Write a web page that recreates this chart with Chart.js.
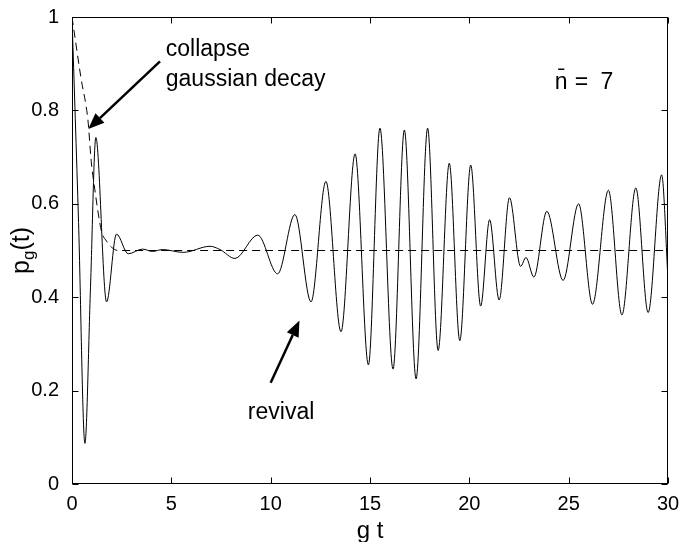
<!DOCTYPE html>
<html>
<head>
<meta charset="UTF-8">
<title>p_g(t) collapse and revival</title>
<style>
  body { margin: 0; background: #fff; }
  canvas { display: block; }
</style>
</head>
<body>
<canvas id="chart" width="683" height="542"></canvas>
<script src="https://cdn.jsdelivr.net/npm/chart.js"></script>
<script>
// solid curve p_g(t), turning points
const gt = [0, 0.33, 0.65, 0.93, 1.2, 1.74, 2.24, 2.83, 3.55, 4.05, 4.55, 5.6, 6.95, 7.45, 8.2, 9.35,
  10.35, 11.22, 12.03, 12.78, 13.54, 14.25, 14.92, 15.5, 16.16, 16.73, 17.32, 17.9, 18.43, 18.99, 19.52,
  20.07, 20.57, 21.02, 21.5, 22.02, 22.58, 22.85, 23.25, 23.9, 24.72, 25.5, 26.2, 27.0, 27.68, 28.38,
  29.0, 29.68, 30];
const pg = [1.0, 0.56, 0.087, 0.42, 0.742, 0.39, 0.535, 0.493, 0.503, 0.498, 0.502, 0.496, 0.509, 0.502, 0.483, 0.533,
  0.45, 0.577, 0.39, 0.648, 0.326, 0.707, 0.255, 0.762, 0.246, 0.758, 0.225, 0.762, 0.286, 0.687, 0.307,
  0.683, 0.381, 0.566, 0.394, 0.613, 0.466, 0.485, 0.443, 0.584, 0.436, 0.6, 0.385, 0.629, 0.362, 0.634,
  0.367, 0.662, 0.44];

// dashed gaussian decay envelope
const envT = [0, 0.45, 0.8, 0.97, 1.15, 1.32, 1.49, 1.74, 1.99, 2.32, 30];
const envP = [1.0, 0.87, 0.78, 0.69, 0.63, 0.58, 0.54, 0.52, 0.507, 0.5, 0.5];

const xTicks = [0, 5, 10, 15, 20, 25, 30];
const yTicks = [0, 0.2, 0.4, 0.6, 0.8, 1];
const yTickLabels = ['0', '0.2', '0.4', '0.6', '0.8', '1'];

const FONT = "'Liberation Sans', Arial, sans-serif";

function arrow(ctx, x0, y0, x1, y1) {
  const a = Math.atan2(y1 - y0, x1 - x0);
  const L = 16, W = 6.5;
  const bx = x1 - L * Math.cos(a), by = y1 - L * Math.sin(a);
  ctx.lineWidth = 2.5;
  ctx.beginPath();
  ctx.moveTo(x0, y0);
  ctx.lineTo(bx, by);
  ctx.stroke();
  ctx.beginPath();
  ctx.moveTo(x1, y1);
  ctx.lineTo(bx + W * Math.sin(a), by - W * Math.cos(a));
  ctx.lineTo(bx - W * Math.sin(a), by + W * Math.cos(a));
  ctx.closePath();
  ctx.fill();
}

// box, inward ticks, annotations and the y label
const decorations = {
  id: 'decorations',
  afterDraw(chart) {
    const { ctx, chartArea: a, scales: { x, y } } = chart;
    const L = Math.round(a.left) + 0.5, R = Math.round(a.right) - 0.5;
    const T = Math.round(a.top) + 0.5, B = Math.round(a.bottom) - 0.5;
    ctx.save();
    ctx.strokeStyle = '#000';
    ctx.fillStyle = '#000';
    ctx.lineWidth = 1;
    ctx.strokeRect(L, T, R - L, B - T);
    ctx.beginPath();
    xTicks.forEach(v => {
      const px = Math.round(x.getPixelForValue(v)) + 0.5;
      ctx.moveTo(px, B); ctx.lineTo(px, B - 6);
      ctx.moveTo(px, T); ctx.lineTo(px, T + 6);
    });
    yTicks.forEach(v => {
      const py = Math.round(y.getPixelForValue(v)) + 0.5;
      ctx.moveTo(L, py); ctx.lineTo(L + 6, py);
      ctx.moveTo(R, py); ctx.lineTo(R - 6, py);
    });
    ctx.stroke();

    // annotations placed in data units
    const X = v => x.getPixelForValue(v), Y = v => y.getPixelForValue(v);
    ctx.font = '23px ' + FONT;
    ctx.textBaseline = 'middle';
    ctx.textAlign = 'left';
    ctx.fillText('collapse', X(4.72), Y(0.93));
    ctx.fillText('gaussian decay', X(4.72), Y(0.865));
    ctx.fillText('revival', X(8.85), Y(0.152));
    ctx.fillText('n\u0304', X(24.3), Y(0.86));
    ctx.fillText('=', X(25.3), Y(0.86));
    ctx.fillText('7', X(26.6), Y(0.86));

    arrow(ctx, X(4.43), Y(0.905), X(0.82), Y(0.76));
    arrow(ctx, X(10.0), Y(0.217), X(11.45), Y(0.35));

    // y label p_g(t)
    ctx.translate(22, (a.top + a.bottom) / 2);
    ctx.rotate(-Math.PI / 2);
    const big = '25px ' + FONT, small = '17px ' + FONT;
    ctx.font = big; const w1 = ctx.measureText('p').width, w3 = ctx.measureText('(t)').width;
    ctx.font = small; const w2 = ctx.measureText('g').width;
    let cx = -(w1 + w2 + w3) / 2;
    ctx.font = big; ctx.fillText('p', cx, 0); cx += w1;
    ctx.font = small; ctx.fillText('g', cx, 7); cx += w2;
    ctx.font = big; ctx.fillText('(t)', cx, 0);
    ctx.restore();
  }
};

new Chart(document.getElementById('chart'), {
  type: 'line',
  data: {
    datasets: [
      {
        data: gt.map((t, i) => ({ x: t, y: pg[i] })),
        borderColor: '#000',
        borderWidth: 1,
        pointRadius: 0,
        cubicInterpolationMode: 'monotone',
        fill: false
      },
      {
        data: envT.map((t, i) => ({ x: t, y: envP[i] })),
        borderColor: '#000',
        borderWidth: 1,
        borderDash: [8, 5],
        pointRadius: 0,
        cubicInterpolationMode: 'monotone',
        fill: false
      }
    ]
  },
  options: {
    responsive: false,
    animation: false,
    layout: { padding: { top: 14, right: 15 } },
    plugins: { legend: { display: false }, tooltip: { enabled: false } },
    scales: {
      x: {
        type: 'linear',
        min: 0,
        max: 30,
        afterBuildTicks: s => { s.ticks = xTicks.map(v => ({ value: v })); },
        afterFit: s => { s.height = 58; },
        grid: { display: false },
        border: { display: false },
        ticks: { color: '#000', font: { family: FONT, size: 20 }, padding: 0, maxRotation: 0 },
        title: { display: true, text: 'g t', color: '#000', font: { family: FONT, size: 24, lineHeight: 1 }, padding: { top: 0, bottom: -1 } }
      },
      y: {
        min: 0,
        max: 1,
        afterBuildTicks: s => { s.ticks = yTicks.map(v => ({ value: v })); },
        afterFit: s => { s.width = 72; },
        grid: { display: false },
        border: { display: false },
        ticks: {
          color: '#000',
          font: { family: FONT, size: 20 },
          padding: 5,
          callback: v => yTickLabels[yTicks.indexOf(v)]
        }
      }
    }
  },
  plugins: [decorations]
});
</script>
</body>
</html>
